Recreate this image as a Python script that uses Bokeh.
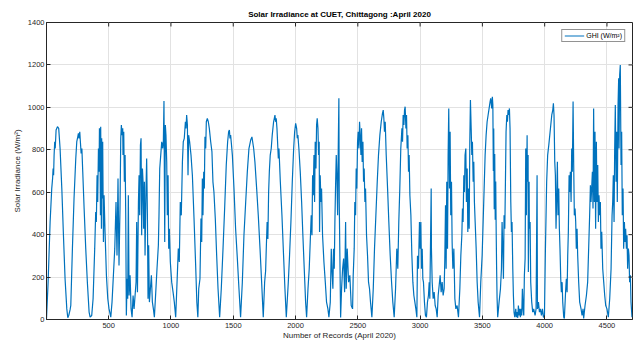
from bokeh.plotting import figure
from bokeh.models import Range1d, FixedTicker
from bokeh.embed import file_html
from bokeh.resources import INLINE

# GHI log for April 2020 at CUET, Chittagong: record number -> W/m^2
record = [
    # day 1
    1, 14, 30, 43, 50, 54, 58, 62, 67, 71, 78, 89, 99, 110, 124, 137, 150, 164, 172,
    # day 2
    180, 190, 196, 209, 222, 236, 244, 252, 257, 262, 268, 273, 279, 285, 292, 303, 316, 329, 343, 351, 364,
    # day 3
    375, 388, 396, 401, 407, 412, 418, 423, 426, 430, 434, 436, 442, 444, 450, 452, 458, 463, 471, 482, 493, 503, 517,
    # day 4
    527, 538, 549, 559, 567, 575, 583, 591, 597, 602, 607, 613, 615, 621, 626, 632, 637, 642, 648, 653, 658, 664, 672, 680, 688,
    # day 5
    696, 704, 712, 720, 725, 731, 739, 744, 749, 755, 760, 765, 771, 776, 781, 787, 792, 800, 805, 811, 816, 821, 827, 835, 843, 851, 859, 867,
    # day 6
    878, 888, 899, 904, 910, 918, 926, 934, 939, 944, 950, 955, 960, 966, 971, 977, 982, 987, 995, 1006, 1017, 1027, 1038,
    # day 7
    1051, 1059, 1067, 1075, 1083, 1092, 1099, 1107, 1116, 1121, 1126, 1132, 1137, 1142, 1150, 1161, 1172, 1185, 1198, 1208, 1216,
    # day 8
    1223, 1233, 1241, 1247, 1252, 1257, 1263, 1268, 1273, 1279, 1284, 1292, 1300, 1308, 1319, 1329, 1337, 1345, 1356, 1367, 1378, 1391,
    # day 9
    1404, 1418, 1431, 1444, 1455, 1463, 1469, 1474, 1479, 1485, 1493, 1506, 1519, 1533, 1546, 1559,
    # day 10
    1573, 1586, 1600, 1613, 1626, 1640, 1650, 1656, 1664, 1674, 1688, 1701, 1715, 1728, 1741,
    # day 11
    1752, 1760, 1765, 1772, 1778, 1784, 1790, 1797, 1805, 1813, 1824, 1835, 1840, 1845, 1851, 1862, 1867, 1878, 1891, 1904, 1915, 1926,
    # day 12
    1942, 1952, 1963, 1974, 1985, 1993, 2001, 2009, 2014, 2019, 2027, 2038, 2049, 2059, 2070, 2081, 2089,
    # day 13
    2100, 2110, 2118, 2126, 2132, 2137, 2142, 2148, 2153, 2158, 2164, 2169, 2174, 2180, 2185, 2190, 2193, 2198, 2204, 2209, 2217, 2228, 2239, 2249, 2260, 2268,
    # day 14
    2279, 2287, 2292, 2300, 2305, 2311, 2316, 2321, 2327, 2332, 2338, 2343, 2348, 2351, 2356, 2362,
    # day 15
    2370, 2378, 2386, 2394, 2402, 2407, 2415, 2426, 2436, 2447, 2458, 2463, 2471, 2476, 2482, 2487, 2492, 2498, 2503, 2509, 2514, 2519, 2525, 2530, 2535, 2541, 2546, 2551, 2557, 2562, 2570, 2578, 2586, 2594, 2602, 2613,
    # day 16
    2624, 2634, 2645, 2656, 2666, 2677, 2688, 2698, 2704, 2709, 2714, 2720, 2728, 2739, 2749, 2760, 2771, 2781, 2792,
    # day 17
    2803, 2813, 2821, 2829, 2837, 2845, 2854, 2859, 2864, 2870, 2875, 2880, 2886, 2891, 2896, 2902, 2907, 2912, 2918, 2926, 2934, 2942, 2950, 2958, 2966, 2974,
    # day 18
    2979, 2987, 2995, 3001, 3006, 3011, 3017, 3022, 3027, 3035, 3043, 3051,
    # day 19
    3059, 3067, 3073, 3078, 3083, 3089, 3091, 3097, 3105, 3113, 3121, 3129, 3137,
    # day 20
    3145, 3153, 3161, 3169, 3177, 3185, 3193, 3198, 3204, 3209, 3214, 3220, 3225, 3230, 3236, 3241, 3246, 3252, 3257, 3263, 3271, 3279, 3287, 3297, 3308,
    # day 21
    3319, 3327, 3335, 3340, 3345, 3351, 3356, 3361, 3367, 3372, 3378, 3383, 3388, 3394, 3399, 3404, 3410, 3415, 3420, 3426, 3431, 3436, 3442, 3450, 3458, 3466, 3477,
    # day 22
    3487, 3498, 3506, 3514, 3522, 3530, 3538, 3546, 3554, 3562, 3567, 3575, 3580, 3584, 3588, 3591, 3595, 3599, 3603, 3607, 3611, 3614, 3618, 3623,
    # day 23
    3634, 3645, 3653, 3658, 3664, 3669, 3674, 3680, 3685, 3690, 3696, 3701, 3706, 3712, 3717, 3722, 3728, 3733, 3738, 3744, 3749, 3754, 3760,
    # days 24-25 (overcast)
    3768, 3773, 3778, 3784, 3789, 3795, 3800, 3805, 3811, 3816, 3821, 3827, 3832, 3837, 3843, 3848, 3853, 3859, 3861, 3867, 3869, 3875, 3877, 3883, 3888, 3896, 3904, 3912, 3923, 3931, 3939, 3942, 3950, 3958, 3966, 3974, 3982, 3990,
    # day 26
    3998, 4006, 4011, 4016, 4024, 4033, 4041, 4049, 4057, 4065, 4070, 4075, 4081, 4086, 4091, 4097, 4102, 4107, 4113, 4118, 4123, 4129, 4134, 4140, 4145, 4153,
    # day 27
    4158, 4169, 4174, 4180, 4185, 4190, 4196, 4201, 4206, 4212, 4217, 4222, 4228, 4233, 4238, 4244, 4249, 4254, 4260, 4265, 4273, 4281, 4292, 4300, 4308, 4313,
    # day 28
    4324, 4335, 4345, 4353, 4361, 4367, 4372, 4377, 4383, 4388, 4393, 4399, 4404, 4409, 4415, 4420, 4426, 4431, 4436, 4442, 4447, 4452, 4458, 4466, 4474, 4482, 4490, 4500, 4511,
    # day 29
    4522, 4533, 4541, 4546, 4551, 4557, 4562, 4567, 4573, 4578, 4583, 4589, 4594, 4597, 4602, 4607, 4613, 4618, 4623, 4629, 4634, 4640, 4645, 4650, 4656, 4661, 4666, 4672, 4677, 4682, 4688, 4693, 4701,
]

ghi = [
    # day 1
    5, 176, 460, 617, 665, 712, 680, 775, 838, 806, 893, 909, 901, 806, 617, 397, 192, 50, 8,
    # day 2
    20, 45, 66, 334, 570, 759, 838, 861, 877, 854, 885, 838, 783, 806, 696, 523, 334, 176, 35, 11, 19,
    # day 3
    98, 334, 507, 460, 680, 554, 806, 696, 901, 885, 491, 909, 428, 854, 570, 838, 365, 586, 413, 208, 98, 50, 11,
    # day 4
    82, 208, 334, 554, 302, 665, 255, 523, 854, 917, 869, 901, 775, 885, 649, 775, 491, 19, 192, 98, 586, 113, 208, 50, 11,
    # day 5
    113, 50, 113, 176, 460, 129, 554, 680, 491, 822, 854, 397, 712, 649, 428, 649, 302, 617, 759, 491, 98, 350, 82, 145, 208, 82, 50, 11,
    # day 6
    129, 239, 350, 491, 712, 775, 838, 806, 838, 1030, 365, 917, 869, 743, 491, 680, 334, 428, 271, 176, 129, 82, 11,
    # day 7
    208, 334, 271, 554, 491, 743, 838, 854, 932, 901, 964, 917, 680, 869, 838, 775, 680, 480, 260, 80, 11,
    # day 8
    145, 192, 476, 365, 665, 491, 696, 617, 861, 806, 932, 948, 932, 901, 838, 791, 649, 601, 476, 302, 145, 11,
    # day 9
    145, 334, 523, 728, 838, 885, 893, 854, 869, 830, 775, 617, 428, 287, 145, 11,
    # day 10
    176, 397, 554, 696, 806, 846, 861, 838, 806, 743, 617, 491, 334, 176, 11,
    # day 11
    176, 230, 330, 460, 380, 600, 700, 775, 806, 869, 932, 964, 932, 948, 901, 759, 806, 649, 491, 302, 145, 11,
    # day 12
    176, 302, 460, 649, 806, 885, 925, 901, 854, 869, 806, 696, 554, 397, 239, 82, 11,
    # day 13
    145, 239, 365, 491, 397, 680, 586, 775, 554, 838, 712, 917, 948, 901, 775, 838, 413, 680, 554, 617, 397, 271, 176, 82, 50, 11,
    # day 14
    82, 334, 239, 145, 334, 239, 460, 617, 775, 680, 491, 806, 1043, 554, 300, 10,
    # day 15
    150, 239, 287, 129, 460, 145, 334, 176, 208, 66, 50, 208, 334, 554, 491, 712, 617, 838, 885, 806, 932, 869, 775, 901, 743, 838, 649, 712, 554, 617, 397, 302, 176, 145, 82, 11,
    # day 16
    145, 334, 491, 649, 775, 869, 932, 972, 987, 948, 885, 932, 775, 617, 460, 302, 176, 82, 11,
    # day 17
    145, 334, 239, 460, 617, 806, 901, 838, 964, 917, 987, 1003, 901, 964, 806, 869, 696, 775, 586, 491, 302, 176, 113, 82, 50, 11,
    # day 18
    300, 239, 460, 334, 460, 239, 334, 192, 176, 82, 19, 11,
    # day 19
    82, 113, 176, 98, 334, 617, 334, 176, 98, 129, 66, 50, 11,
    # day 20
    113, 160, 208, 129, 176, 113, 145, 271, 539, 239, 649, 334, 775, 995, 617, 885, 491, 649, 365, 239, 334, 98, 50, 66, 11,
    # day 21
    145, 302, 397, 523, 460, 680, 601, 775, 806, 554, 712, 413, 617, 428, 838, 1035, 901, 775, 838, 649, 743, 554, 460, 334, 176, 82, 11,
    # day 22
    176, 302, 460, 617, 775, 869, 932, 964, 995, 1027, 1043, 995, 1050, 1011, 700, 900, 520, 780, 470, 650, 400, 250, 100, 11,
    # day 23
    82, 145, 239, 460, 334, 192, 491, 428, 649, 885, 964, 932, 987, 964, 995, 901, 554, 413, 460, 239, 113, 35, 11,
    # days 24-25 (overcast)
    50, 11, 35, 8, 66, 19, 50, 11, 50, 19, 145, 50, 19, 208, 287, 806, 491, 869, 649, 775, 224, 649, 428, 460, 176, 82, 35, 50, 19, 50, 680, 50, 82, 35, 50, 19, 50, 11,
    # day 26
    11, 334, 491, 649, 775, 822, 869, 917, 964, 987, 1019, 964, 743, 680, 428, 586, 743, 491, 617, 428, 334, 192, 129, 176, 82, 11,
    # day 27
    5, 145, 192, 129, 302, 413, 680, 601, 696, 554, 806, 696, 1027, 728, 491, 523, 460, 334, 428, 302, 176, 82, 50, 19, 50, 5,
    # day 28
    66, 113, 176, 334, 491, 633, 554, 617, 696, 523, 995, 554, 885, 428, 838, 554, 728, 460, 586, 491, 554, 334, 413, 239, 176, 113, 66, 50, 11,
    # day 29
    98, 239, 491, 554, 680, 460, 806, 1011, 649, 885, 554, 1011, 1137, 806, 1153, 1200, 728, 885, 491, 617, 334, 460, 365, 428, 334, 397, 239, 334, 302, 176, 208, 82, 11,
]

x_ticks = [500, 1000, 1500, 2000, 2500, 3000, 3500, 4000, 4500]
y_ticks = [0, 200, 400, 600, 800, 1000, 1200, 1400]

X_MIN, X_MAX = 1, 4705
Y_MIN, Y_MAX = 0, 1400

FONT = "Liberation Sans"
INK = "#262626"
FRAME_W, FRAME_H = 586, 297
TICK_PX = 4

p = figure(
    width=642, height=342,
    output_backend="svg", toolbar_location=None,
    x_range=Range1d(X_MIN, X_MAX), y_range=Range1d(Y_MIN, Y_MAX),
    min_border_left=46, min_border_right=10,
    min_border_top=22, min_border_bottom=23,
    title="Solar Irradiance at CUET, Chittagong :April 2020",
)
p.background_fill_color = "white"
p.border_fill_color = "white"
p.outline_line_color = INK
p.outline_line_width = 1

p.title.align = "center"
p.title.text_font = FONT
p.title.text_font_size = "8px"
p.title.text_font_style = "bold"
p.title.text_color = "#000000"
p.title.standoff = 8
p.title.offset = 0

p.xgrid.ticker = FixedTicker(ticks=x_ticks)
p.ygrid.ticker = FixedTicker(ticks=y_ticks)
p.grid.grid_line_color = "#e2e2e2"
p.grid.grid_line_width = 1

p.line(record, ghi, line_color="#0072BD", line_width=1.2, legend_label="GHI (W/m²)")

# inward tick marks along the top and right edges of the box
dy = TICK_PX * (Y_MAX - Y_MIN) / FRAME_H
dx = TICK_PX * (X_MAX - X_MIN) / FRAME_W
p.segment(x0=x_ticks, x1=x_ticks, y0=[Y_MAX] * len(x_ticks), y1=[Y_MAX - dy] * len(x_ticks),
          line_color=INK, line_width=1)
p.segment(x0=[X_MAX] * len(y_ticks), x1=[X_MAX - dx] * len(y_ticks), y0=y_ticks, y1=y_ticks,
          line_color=INK, line_width=1)


def style_axis(ax, ticks):
    ax.ticker = FixedTicker(ticks=ticks)
    ax.axis_line_color = INK
    ax.major_tick_line_color = INK
    ax.major_tick_in = TICK_PX
    ax.major_tick_out = 0
    ax.minor_tick_line_color = None
    ax.major_label_text_font = FONT
    ax.major_label_text_font_size = "7.5px"
    ax.major_label_text_color = INK
    ax.axis_label_text_font = FONT
    ax.axis_label_text_font_size = "8px"
    ax.axis_label_text_font_style = "normal"
    ax.axis_label_text_color = INK


xa = p.xaxis[0]
ya = p.yaxis[0]
style_axis(xa, x_ticks)
style_axis(ya, y_ticks)
xa.axis_label = "Number of Records (April 2020)"
xa.major_label_standoff = 3
xa.axis_label_standoff = 0
ya.axis_label = "Solar Irradiance (W/m²)"
ya.major_label_standoff = 2
ya.axis_label_standoff = 3

lg = p.legend[0]
lg.location = "top_right"
lg.margin = 7
lg.padding = 2
lg.spacing = 0
lg.label_text_font = FONT
lg.label_text_font_size = "7px"
lg.label_text_color = "#000000"
lg.label_height = 7
lg.label_standoff = 2
lg.glyph_width = 20
lg.glyph_height = 7
lg.border_line_color = INK
lg.border_line_width = 1
lg.background_fill_alpha = 1

open("out.html", "w").write(file_html(p, INLINE))
